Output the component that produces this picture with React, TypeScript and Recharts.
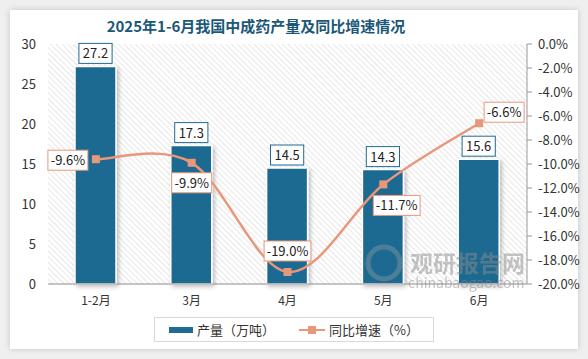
import React from "react";
import {
  ComposedChart,
  Bar,
  Line,
  XAxis,
  YAxis,
  CartesianGrid,
  LabelList,
} from "recharts";

const months = ["1-2月", "3月", "4月", "5月", "6月"];
const output = [27.2, 17.3, 14.5, 14.3, 15.6];
const growth = [-9.6, -9.9, -19.0, -11.7, -6.6];
const leftTicks = [0, 5, 10, 15, 20, 25, 30];
const rightTicks = [0, -2, -4, -6, -8, -10, -12, -14, -16, -18, -20];
// where each growth label sits relative to its point
const growthLabelSide = ["left", "below", "above", "belowRight", "aboveRight"];

const BLUE = "#1F6B91";
const SALMON = "#E8977A";
const FONT = "'Noto Sans CJK SC', 'Noto Sans', sans-serif";

const data = months.map((m, i) => ({ month: m, output: output[i], growth: growth[i] }));

// Excel-like smoothing (Catmull-Rom through the points)
function excelSmooth(context: any) {
  let pts: [number, number][] = [];
  return {
    areaStart() {},
    areaEnd() {},
    lineStart() {
      pts = [];
    },
    lineEnd() {
      if (!pts.length) return;
      context.moveTo(pts[0][0], pts[0][1]);
      for (let i = 0; i < pts.length - 1; i++) {
        const p0 = pts[i - 1] || pts[i];
        const p1 = pts[i];
        const p2 = pts[i + 1];
        const p3 = pts[i + 2] || p2;
        context.bezierCurveTo(
          p1[0] + (p2[0] - p0[0]) / 6,
          p1[1] + (p2[1] - p0[1]) / 6,
          p2[0] - (p3[0] - p1[0]) / 6,
          p2[1] - (p3[1] - p1[1]) / 6,
          p2[0],
          p2[1]
        );
      }
    },
    point(x: number, y: number) {
      pts.push([x, y]);
    },
  };
}

const BarValueLabel = (props: any) => {
  const { x, y, width, value } = props;
  const txt = Number(value).toFixed(1);
  const w = txt.length * 6.8 + 6;
  const h = 20;
  const cx = x + width / 2;
  return (
    <g>
      <rect x={cx - w / 2} y={y - h - 3} width={w} height={h} fill="#fff" stroke={BLUE} strokeWidth={1} />
      <text x={cx} y={y - 3 - h / 2 + 5} textAnchor="middle" fontSize={13} fill="#222" fontFamily={FONT}>
        {txt}
      </text>
    </g>
  );
};

const GrowthLabel = (props: any) => {
  const { x, y, value, index } = props;
  const txt = Number(value).toFixed(1) + "%";
  const w = txt.length * 6.8 + 6;
  const h = 20;
  const side = growthLabelSide[index];
  let bx = x - w / 2;
  let by = y - h / 2;
  if (side === "left") {
    bx = x - 8 - w;
    by = y - h / 2 + 1;
  } else if (side === "below") {
    bx = x - w / 2;
    by = y + 10;
  } else if (side === "above") {
    bx = x - w / 2;
    by = y - 11 - h;
  } else if (side === "belowRight") {
    bx = x - 10;
    by = y + 11;
  } else if (side === "aboveRight") {
    bx = x + 5;
    by = y - h - 1;
  }
  return (
    <g>
      <rect x={bx} y={by} width={w} height={h} fill="#fff" stroke={SALMON} strokeWidth={1} />
      <text x={bx + w / 2} y={by + h / 2 + 5} textAnchor="middle" fontSize={13} fill="#222" fontFamily={FONT}>
        {txt}
      </text>
    </g>
  );
};

const SquareDot = (props: any) => {
  const { cx, cy, index } = props;
  return <rect key={`dot-${index}`} x={cx - 4} y={cy - 4} width={8} height={8} fill={SALMON} />;
};

export default function App() {
  return (
    <div
      style={{
        position: "absolute",
        left: 0,
        top: 0,
        width: 588,
        height: 359,
        background: "#efefef",
        fontFamily: FONT,
        overflow: "hidden",
      }}
    >
      <div
        style={{
          position: "absolute",
          left: 10,
          top: 10,
          width: 568,
          height: 339,
          background: "#fff",
          boxShadow: "0 0 6px rgba(0,0,0,0.18)",
        }}
      />
      <div
        style={{
          position: "absolute",
          left: 56,
          top: 14,
          width: 400,
          textAlign: "center",
          fontSize: 15,
          fontWeight: 700,
          color: "#1B5878",
          lineHeight: "24px",
        }}
      >
        2025年1-6月我国中成药产量及同比增速情况
      </div>
      <div style={{ position: "absolute", left: 0, top: 0 }}>
        <ComposedChart
          width={588}
          height={359}
          data={data}
          margin={{ top: 44, right: 5, bottom: 45, left: 8 }}
        >
          <defs>
            <pattern
              id="hatch"
              patternUnits="userSpaceOnUse"
              width={4}
              height={4}
              patternTransform="rotate(-45)"
            >
              <line x1={0} y1={0} x2={0} y2={4} stroke="#d0d0d0" strokeWidth={1} />
            </pattern>
            <filter id="barShadow" x="-20%" y="-20%" width="150%" height="150%">
              <feDropShadow dx={2} dy={2} stdDeviation={2} floodColor="#000" floodOpacity={0.25} />
            </filter>
          </defs>
          <CartesianGrid horizontal={false} vertical={false} fill="url(#hatch)" stroke="none" />
          <XAxis
            dataKey="month"
            height={30}
            axisLine={{ stroke: "#8c8c8c" }}
            tickLine={false}
            tickMargin={6}
            tick={{ fontSize: 12, fill: "#333", fontFamily: FONT }}
          />
          <YAxis
            yAxisId="left"
            width={40}
            domain={[0, 30]}
            ticks={leftTicks}
            axisLine={false}
            tickLine={false}
            tickMargin={6}
            tick={{ fontSize: 13, fill: "#333", fontFamily: FONT }}
          />
          <YAxis
            yAxisId="right"
            orientation="right"
            width={56}
            domain={[-20, 0]}
            ticks={rightTicks}
            tickFormatter={(v: number) => v.toFixed(1) + "%"}
            axisLine={{ stroke: "#999" }}
            tickLine={{ stroke: "#999" }}
            tickSize={5}
            tickMargin={6}
            tick={{ fontSize: 13, fill: "#333", fontFamily: FONT }}
          />
          <Bar
            yAxisId="left"
            dataKey="output"
            barSize={41}
            fill={BLUE}
            stroke="#fff"
            strokeWidth={1.5}
            filter="url(#barShadow)"
            isAnimationActive={false}
          >
            <LabelList dataKey="output" content={BarValueLabel} />
          </Bar>
          <Line
            yAxisId="right"
            dataKey="growth"
            type={excelSmooth as any}
            stroke={SALMON}
            strokeWidth={2.5}
            dot={SquareDot}
            activeDot={false}
            isAnimationActive={false}
            label={GrowthLabel}
          />
        </ComposedChart>
      </div>
      {/* watermark */}
      <div style={{ position: "absolute", left: 362, top: 242, opacity: 0.5, pointerEvents: "none" }}>
        <svg width={168} height={50}>
          <circle cx={22} cy={21} r={16} fill="none" stroke="#7f93a0" strokeWidth={5} />
          <text x={48} y={30} fontSize={23} fontWeight={700} fill="#8a8a8a" fontFamily={FONT}>
            观研报告网
          </text>
          <text x={46} y={46} fontSize={14} fill="#8a8a8a" fontFamily={FONT}>
            chinabaogao.com
          </text>
        </svg>
      </div>
      <div
        style={{
          position: "absolute",
          left: 154,
          top: 317,
          width: 278,
          height: 23,
          border: "1px solid #d9d9d9",
          display: "flex",
          alignItems: "center",
          justifyContent: "center",
          fontSize: 13,
          color: "#333",
          background: "#fff",
        }}
      >
        <span style={{ display: "inline-block", width: 24, height: 6, background: BLUE, marginRight: 4 }} />
        <span>产量（万吨）</span>
        <span style={{ position: "relative", display: "inline-block", width: 26, height: 2, background: SALMON, marginLeft: 24, marginRight: 4 }}>
          <span style={{ position: "absolute", left: 9, top: -3, width: 8, height: 8, background: SALMON }} />
        </span>
        <span>同比增速（%）</span>
      </div>
    </div>
  );
}
